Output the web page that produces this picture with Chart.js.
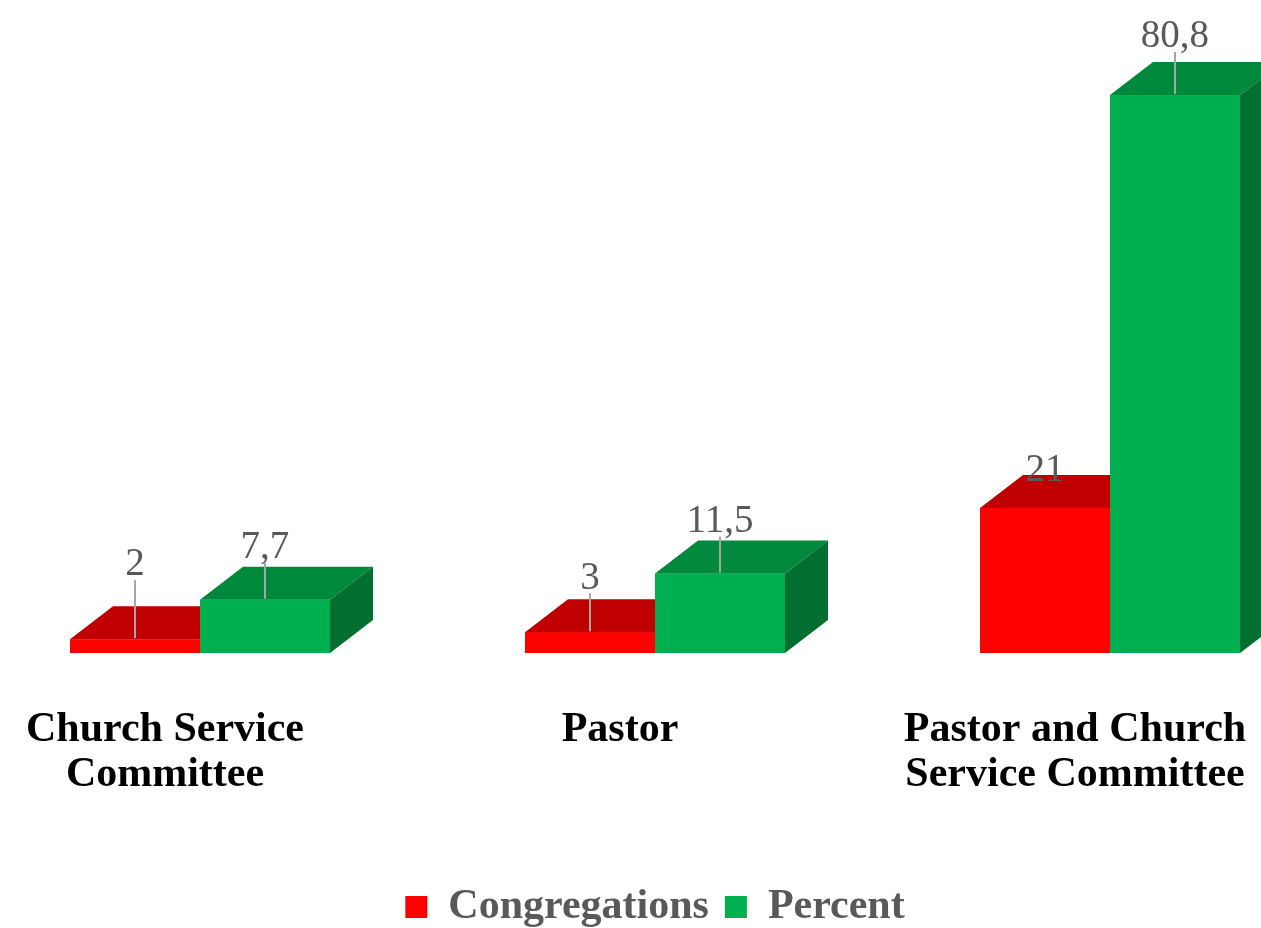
<!DOCTYPE html>
<html>
<head>
<meta charset="utf-8">
<title>Congregations and Percent</title>
<script src="https://cdn.jsdelivr.net/npm/chart.js@4.4.1/dist/chart.umd.min.js"></script>
<style>
  html, body { margin: 0; padding: 0; background: #fff; }
  #wrap { width: 1261px; height: 928px; position: relative; }
</style>
</head>
<body>
<div id="wrap"><canvas id="Chart"></canvas></div>
<script>
// Categories (two-line labels) and the two series
const categories = [
  ['Church Service', 'Committee'],
  ['Pastor'],
  ['Pastor and Church', 'Service Committee']
];
const seriesNames = ['Congregations', 'Percent'];
const congregations = [2, 3, 21];
const percent = [7.7, 11.5, 80.8];

// front / top / side colours per series
const faces = [
  { front: '#ff0000', top: '#c00000', side: '#9c0000' },
  { front: '#00b050', top: '#00883c', side: '#006f2f' }
];

const serif = "'Liberation Serif', 'Times New Roman', serif";

// Draws the boxes as extruded blocks, left to right, then the value labels
const bars3d = {
  id: 'bars3d',
  afterDatasetsDraw(chart, args, opts) {
    const ctx = chart.ctx;
    const dx = opts.depthX, dy = opts.depthY;
    const items = [];
    chart.data.datasets.forEach((ds, di) => {
      chart.getDatasetMeta(di).data.forEach((bar, i) => {
        const p = bar.getProps(['x', 'y', 'base', 'width'], true);
        items.push({ di, i, p, value: ds.data[i] });
      });
    });
    items.sort((a, b) => a.p.x - b.p.x);

    ctx.save();
    items.forEach(({ di, p }) => {
      const c = faces[di];
      const l = p.x - p.width / 2, r = p.x + p.width / 2;
      const t = p.y, b = p.base;
      // front
      ctx.fillStyle = c.front;
      ctx.fillRect(l, t, r - l, b - t);
      // top
      ctx.fillStyle = c.top;
      ctx.beginPath();
      ctx.moveTo(l, t);
      ctx.lineTo(r, t);
      ctx.lineTo(r + dx, t - dy);
      ctx.lineTo(l + dx, t - dy);
      ctx.closePath();
      ctx.fill();
      // right side
      ctx.fillStyle = c.side;
      ctx.beginPath();
      ctx.moveTo(r, t);
      ctx.lineTo(r + dx, t - dy);
      ctx.lineTo(r + dx, b - dy);
      ctx.lineTo(r, b);
      ctx.closePath();
      ctx.fill();
    });

    // value labels with leader lines
    ctx.font = opts.font;
    ctx.textAlign = 'center';
    ctx.textBaseline = 'middle';
    items.forEach(({ di, i, p, value }) => {
      const ly = p.y - opts.lift[di][i];
      if (opts.leader[di][i]) {
        ctx.strokeStyle = '#a6a6a6';
        ctx.lineWidth = 2;
        ctx.beginPath();
        ctx.moveTo(p.x, ly + 15);
        ctx.lineTo(p.x, p.y - 1);
        ctx.stroke();
      }
      ctx.fillStyle = '#595959';
      ctx.fillText(String(value).replace('.', ','), p.x, ly);
    });
    ctx.restore();
  }
};

const config = {
  type: 'bar',
  data: {
    labels: categories,
    datasets: [
      { label: seriesNames[0], data: congregations, backgroundColor: faces[0].front, borderWidth: 0 },
      { label: seriesNames[1], data: percent, backgroundColor: faces[1].front, borderWidth: 0 }
    ]
  },
  options: {
    responsive: true,
    maintainAspectRatio: false,
    animation: false,
    datasets: {
      bar: { categoryPercentage: 0.5714, barPercentage: 1 }
    },
    layout: { padding: { left: 200, right: 151, top: 31.5, bottom: 0 } },
    scales: {
      x: {
        offset: false,
        grid: { display: false, drawTicks: false },
        border: { display: false },
        ticks: {
          autoSkip: false,
          maxRotation: 0,
          padding: 55,
          labelOffset: -35,
          color: '#000',
          font: { family: serif, size: 42, weight: 'bold', lineHeight: 45 / 42 }
        },
        afterFit(scale) {
          // let the outer labels hang past the plot edges
          scale.paddingLeft = 0;
          scale.paddingRight = 0;
          scale.height = 217;
        }
      },
      y: { display: false, min: 0, max: 90 }
    },
    plugins: {
      legend: {
        position: 'bottom',
        maxHeight: 58,
        labels: {
          boxWidth: 22,
          boxHeight: 22,
          padding: 16,
          color: '#595959',
          font: { family: serif, size: 42, weight: 'bold' }
        }
      },
      tooltip: { enabled: false },
      bars3d: {
        depthX: 43,
        depthY: 33,
        font: '39px ' + serif,
        lift: [[74, 54, 37], [52, 52, 58]],
        leader: [[true, true, false], [true, true, true]]
      }
    }
  },
  plugins: [bars3d]
};

const spChart = new Chart(document.getElementById('Chart'), config);
</script>
</body>
</html>
